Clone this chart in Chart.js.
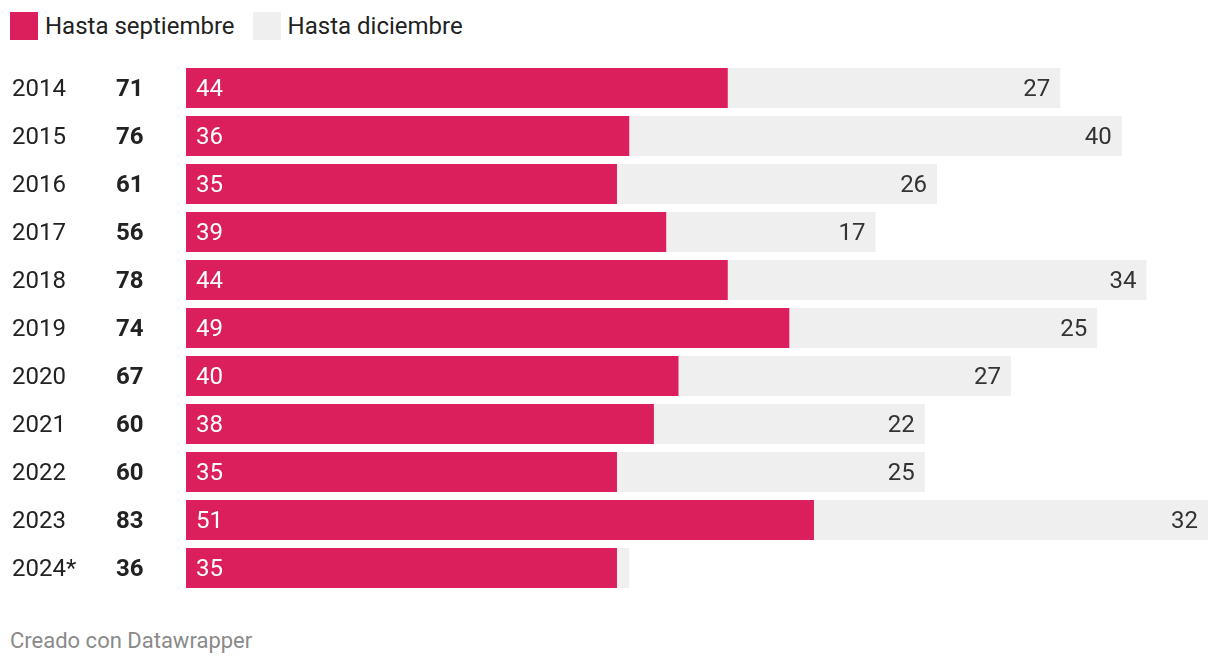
<!DOCTYPE html>
<html>
<head>
<meta charset="utf-8">
<script src="https://cdn.jsdelivr.net/npm/chart.js@4"></script>
<style>
  body { margin: 0; background: #fff; font-family: Roboto, sans-serif; width: 1220px; height: 666px; position: relative; overflow: hidden; }
  .legend { position: absolute; top: 10px; left: 10px; display: flex; align-items: center; font-size: 24px; color: #222; }
  .legend .sw { width: 28px; height: 28px; display: inline-block; margin-right: 7px; }
  .legend .item { display: flex; align-items: center; margin-right: 18px; height: 32px; }
  .wrap { position: absolute; top: 64px; left: 0; width: 1220px; height: 528px; }
  .footer { position: absolute; left: 10px; top: 628px; font-size: 22px; color: #8a8a8a; }
</style>
</head>
<body>
<div class="legend">
  <div class="item"><span class="sw" style="background:#db1e5c"></span>Hasta septiembre</div>
  <div class="item"><span class="sw" style="background:#efefef"></span>Hasta diciembre</div>
</div>
<div class="wrap"><canvas id="chart"></canvas></div>
<div class="footer">Creado con Datawrapper</div>
<script>
const years = ["2014", "2015", "2016", "2017", "2018", "2019", "2020", "2021", "2022", "2023", "2024*"];
const hastaSeptiembre = [44, 36, 35, 39, 44, 49, 40, 38, 35, 51, 35];
const totales = [71, 76, 61, 56, 78, 74, 67, 60, 60, 83, 36];
const resto = totales.map((t, i) => t - hastaSeptiembre[i]);

const RED = "#db1e5c";
const GREY = "#efefef";

// year + total columns on the left, values inside the bars
const labelsPlugin = {
  id: "rowLabels",
  afterDatasetsDraw(chart) {
    const ctx = chart.ctx;
    const yScale = chart.scales.y;
    ctx.save();
    ctx.textBaseline = "middle";
    years.forEach((yr, i) => {
      const y = yScale.getPixelForValue(i) + 2;
      ctx.fillStyle = "#222";
      ctx.textAlign = "left";
      ctx.font = "24px Roboto";
      ctx.fillText(yr, 12, y);
      ctx.font = "bold 24px Roboto";
      ctx.fillText(String(totales[i]), 116, y);
    });
    const m0 = chart.getDatasetMeta(0);
    m0.data.forEach((bar, i) => {
      ctx.font = "24px Roboto";
      ctx.fillStyle = "#fff";
      ctx.textAlign = "left";
      ctx.fillText(String(hastaSeptiembre[i]), bar.base + 10, bar.y + 2);
    });
    const m1 = chart.getDatasetMeta(1);
    m1.data.forEach((bar, i) => {
      if (resto[i] < 5) return;
      ctx.font = "24px Roboto";
      ctx.fillStyle = "#333";
      ctx.textAlign = "right";
      ctx.fillText(String(resto[i]), bar.x - 10, bar.y + 2);
    });
    ctx.restore();
  }
};

new Chart(document.getElementById("chart"), {
  type: "bar",
  data: {
    labels: years,
    datasets: [
      { label: "Hasta septiembre", data: hastaSeptiembre, backgroundColor: RED },
      { label: "Hasta diciembre", data: resto, backgroundColor: GREY }
    ]
  },
  options: {
    indexAxis: "y",
    responsive: true,
    maintainAspectRatio: false,
    animation: false,
    layout: { padding: { left: 186, right: 12, top: 0, bottom: 0 } },
    datasets: { bar: { barPercentage: 40 / 48, categoryPercentage: 1, borderWidth: 0 } },
    scales: {
      x: { stacked: true, min: 0, max: 83, display: false },
      y: { stacked: true, display: false }
    },
    plugins: {
      legend: { display: false },
      tooltip: { enabled: false }
    }
  },
  plugins: [labelsPlugin]
});
</script>
</body>
</html>
